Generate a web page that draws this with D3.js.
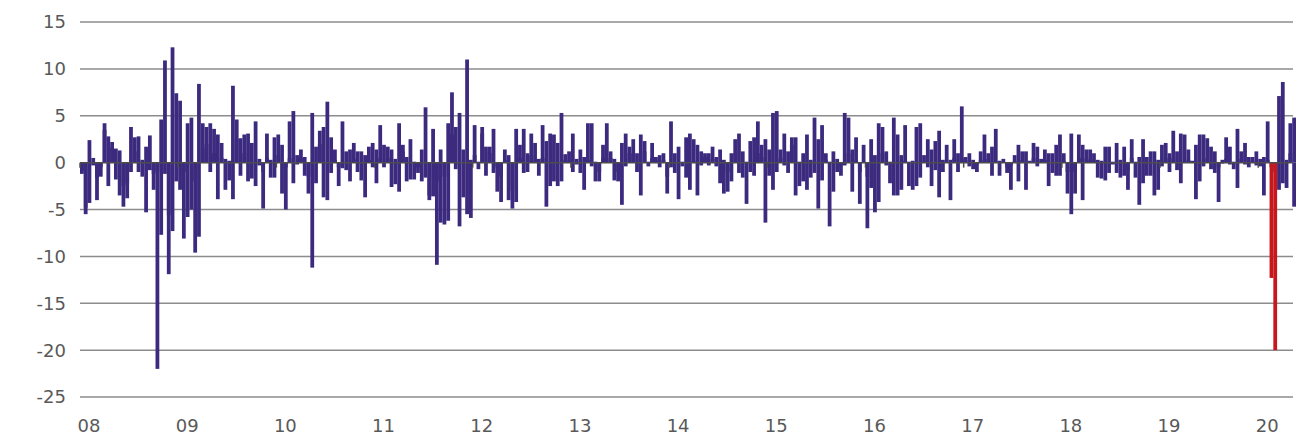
<!DOCTYPE html>
<html>
<head>
<meta charset="utf-8">
<script src="https://cdn.jsdelivr.net/npm/d3@7"></script>
<style>
  body { margin: 0; background: #fff; }
  text { font-family: "DejaVu Sans", sans-serif; }
</style>
</head>
<body>
<div id="chart"></div>
<script>
// weekly values, Jan 2008 - May 2020 (two weeks share one slot on the axis)
const flows = [
  -1.2,-0.9, -5.5,-4.8, 2.4,-4.3, 0.5,-0.3, -4.0,-1.6, -0.5,-1.5, 4.2,3.5, 2.8,-2.5, 2.2,1.6, 1.5,-1.8, 1.3,-3.5, -4.7,-2.5, -3.8,-2.2, 3.8,-1.0, 2.7,1.2, 2.8,-1.0, -1.5,0.3, -5.3,1.7, 2.9,-0.8, -2.9,-1.2, -22.0,-1.0, 4.6,-7.7, 10.9,-1.2, -11.9,-5.6, 12.3,-7.3, 7.4,-2.0, 6.6,-2.9,
  -8.1,-1.0, 4.2,-5.8, 4.8,-5.0, -9.6,-2.0, 8.4,-7.9, 4.2,1.5, 3.8,2.0, 4.2,-1.0, 3.6,1.0, 3.0,-3.9, 2.1,0.5, 0.4,-2.9, -1.9,0.2, 8.2,-3.9, 4.6,2.5, 2.6,-1.4, 3.0,1.0, 3.1,-2.0, 2.1,-1.7, 4.4,-2.5, 0.4,-0.3, -4.9,-1.0, 3.1,0.5, -1.6,0.3, 2.7,-1.6, 3.0,0.8, 1.9,-3.3,
  -5.0,-0.5, 4.4,0.5, 5.5,-2.2, 0.8,-0.2, 1.4,0.5, 0.6,-1.4, -3.3,-1.5, 5.3,-11.2, 1.7,-2.2, 3.4,2.0, 3.8,-3.7, 6.5,-4.0, 2.7,-1.1, 1.4,0.3, -2.5,-0.5, 4.4,-0.6, 1.2,-0.8, 1.4,-2.0, 2.1,0.4, 1.2,-1.0, 1.2,-1.9, -3.7,0.8, 1.7,0.3, 2.1,-0.5, -2.2,1.4, 4.0,0.5, 1.9,-0.5,
  1.7,0.5, 1.4,-2.6, -2.3,0.4, 4.2,-3.1, 1.9,1.2, 0.6,-2.0, 2.5,-1.8, -1.8,0.1, -1.1,-0.5, 1.4,-2.0, 5.9,-1.6, -4.0,-3.5, 3.6,-3.6, -10.9,-2.0, 1.4,-6.4, -6.6,-1.5, 4.2,-6.2, 7.5,3.0, 3.8,-0.7, 5.3,-6.8, 1.4,-3.7, 11.0,-5.5, -5.9,0.3, 4.0,0.8, -0.7,0.1, 3.8,3.1, 1.7,-1.4,
  1.7,1.0, 3.6,-1.1, -3.1,-0.5, -4.2,-1.5, 1.4,0.3, 0.8,-4.0, -4.9,-3.0, 3.6,-4.2, 1.9,0.5, 3.6,-1.1, 1.0,-1.0, 3.1,0.8, 2.1,0.2, -1.4,0.4, 4.0,0.5, -4.7,2.3, 3.1,-2.5, 3.0,-2.0, 2.1,-2.5, 5.3,-2.0, 0.9,0.3, 1.2,0.2, 3.1,-1.0, 0.4,-0.2, 1.4,-1.1, -2.9,0.6, 4.2,0.3,
  4.2,-0.4, -2.0,0.1, -2.0,-1.0, 1.9,0.5, 4.2,0.1, 1.2,0.5, 0.4,-1.9, -2.0,-1.0, 2.1,-4.5, 3.1,-0.4, 1.7,1.0, 2.5,1.0, 1.0,-1.0, 3.0,-3.5, 2.3,1.2, 0.1,-0.4, 2.1,0.5, 0.6,0.3, 0.8,-0.5, 1.0,0.3, -3.3,-1.5, 4.4,-0.5, 1.0,-1.1, 1.7,-3.9, 0.1,-0.4, 2.7,-1.6, 3.1,-2.9,
  2.5,0.2, 1.9,-3.5, 1.2,-0.3, 1.0,0.6, 1.0,-0.3, 1.7,0.4, 0.6,-0.4, 1.4,-2.2, 0.3,-3.3, -3.1,-1.0, 1.0,-2.0, 2.5,1.0, 3.1,-1.1, 1.2,-1.6, -4.4,0.1, 2.3,-1.0, 2.7,-1.4, 4.4,1.0, 1.9,0.6, 2.5,-6.4, 1.4,-1.4, 5.3,-2.9, 5.5,-1.0, 1.4,0.5, 3.1,-0.3, 1.2,-1.1, 2.7,1.9,
  2.7,-3.5, -2.5,0.1, 1.0,-2.0, 3.0,-2.9, -1.6,0.3, 4.8,-1.1, 2.5,-4.9, 4.0,-1.9, 1.0,0.3, -6.8,0.1, 1.2,-3.1, 0.4,-1.0, -1.4,-0.3, 5.3,-0.3, 4.8,1.0, 1.4,-3.1, 2.7,0.2, -4.4,-1.0, 1.9,0.1, -7.0,-1.5, 2.5,-2.7, 0.8,-5.3, 4.2,-4.2, 3.8,1.0, 1.2,-0.3, -2.2,0.1, 4.8,-3.5,
  3.0,-3.5, 0.8,-2.9, 4.0,0.2, 0.1,-2.5, -2.9,0.2, 3.8,-2.5, 4.2,-1.6, 0.8,0.1, 2.5,-0.5, 1.4,-2.5, 2.3,-0.8, 3.4,-3.7, -1.0,0.3, 1.9,0.1, -4.0,0.3, 2.5,0.5, 1.0,-1.0, 6.0,0.5, 0.6,0.3, 1.0,-0.4, 0.3,-0.7, -1.0,-0.2, 1.2,0.3, 3.0,0.1, 1.0,0.4, 1.7,-1.4, 3.6,0.1,
  -1.4,0.2, 0.4,0.1, -1.1,-0.5, -2.9,-0.3, 0.8,0.2, 1.9,-2.0, 1.2,0.3, 1.2,-2.9, 0.1,0.2, 2.1,0.5, 1.7,-0.4, 0.4,0.1, 1.4,0.3, 1.0,-2.5, 1.0,-1.1, 1.9,-1.4, 3.0,-1.4, 1.0,0.2, -3.3,-1.0, 3.1,-5.5, -3.3,-1.0, 3.0,0.5, 1.9,-4.0, 1.4,0.5, 1.4,0.3, 1.0,0.2, -1.6,0.3,
  -1.7,0.2, 1.7,-1.9, 1.7,-1.1, 0.1,-0.2, 2.1,-1.1, -1.6,0.3, 1.7,-1.4, -2.9,-0.8, 2.5,0.5, 0.1,-1.6, 0.6,-4.5, 2.5,-2.2, 0.6,-1.4, 1.2,-1.4, 1.2,-3.5, 0.3,-2.9, 1.9,-0.4, 2.1,0.5, 1.0,-1.0, 3.4,0.5, 1.2,-0.8, 3.1,-2.2, 3.0,0.1, 1.4,0.3, 0.1,0.2, 1.9,-3.9, 3.0,-2.0,
  3.0,-0.4, 2.6,0.5, 1.7,-0.7, 1.2,-1.1, -4.2,-0.5, 0.3,-0.1, 2.7,0.4, 1.7,-0.2, -0.7,0.1, 3.6,-2.7, 1.2,0.4, 2.1,-0.2, 0.6,-0.5, 0.6,0.2, 1.2,-0.3, 0.4,-0.4, 0.6,-3.5, 4.4,0.3, -12.3,-0.5, -20.0,-1.0, 7.1,-2.9, 8.6,-2.2, -2.7,0.3, 4.2,1.0, 4.8,-4.7
];
const highlightWeeks = [630, 632];
const yearLabels = ["08","09","10","11","12","13","14","15","16","17","18","19","20"];
const yTicks = [15, 10, 5, 0, -5, -10, -15, -20, -25];

const W = 1299, H = 442;
const margin = { top: 22, right: 3, bottom: 45, left: 80 };
const weeksPerYear = 52;
const nSlots = Math.ceil(flows.length / 2);

const svg = d3.select("#chart").append("svg")
  .attr("width", W)
  .attr("height", H);

const x = d3.scaleBand()
  .domain(d3.range(nSlots))
  .range([margin.left, 1296])
  .paddingInner(0);

const y = d3.scaleLinear()
  .domain([-25, 15])
  .range([397, margin.top]);

// gridlines + y labels
svg.append("g")
  .selectAll("line")
  .data(yTicks.filter(d => d !== 0))
  .enter().append("line")
  .attr("x1", margin.left).attr("x2", 1293)
  .attr("y1", d => y(d)).attr("y2", d => y(d))
  .attr("stroke", "#8c8c8c")
  .attr("stroke-width", 1.5);

svg.append("g")
  .selectAll("text")
  .data(yTicks)
  .enter().append("text")
  .attr("x", 66)
  .attr("y", d => y(d))
  .attr("dy", "0.36em")
  .attr("text-anchor", "end")
  .attr("font-size", 18)
  .attr("fill", "#595959")
  .text(d => d < 0 ? "-" + Math.abs(d) : d);

const weeks = flows.map((v, i) => ({ i, v, hi: highlightWeeks.includes(i) }));

// normal bars first, highlighted on top
svg.append("g")
  .selectAll("rect")
  .data(weeks.filter(d => !d.hi).concat(weeks.filter(d => d.hi)))
  .enter().append("rect")
  .attr("x", d => x(Math.floor(d.i / 2)))
  .attr("width", x.bandwidth())
  .attr("y", d => y(Math.max(0, d.v)))
  .attr("height", d => Math.abs(y(d.v) - y(0)))
  .attr("fill", d => d.hi ? "#c8161d" : "#3c2a7f");

// zero line
svg.append("line")
  .attr("x1", margin.left).attr("x2", 1293)
  .attr("y1", y(0)).attr("y2", y(0))
  .attr("stroke", "#4d4d4d")
  .attr("stroke-width", 1.5);

// year ticks and labels
const yearSlots = yearLabels.map((lab, k) => ({ lab, slot: k * weeksPerYear / 2 }));

svg.append("g")
  .selectAll("line")
  .data(yearSlots)
  .enter().append("line")
  .attr("x1", d => x(d.slot)).attr("x2", d => x(d.slot))
  .attr("y1", y(0)).attr("y2", y(0) + 5)
  .attr("stroke", "#4d4d4d")
  .attr("stroke-width", 1.5);

svg.append("g")
  .selectAll("text")
  .data(yearSlots)
  .enter().append("text")
  .attr("x", d => x(d.slot) + 9)
  .attr("y", 432)
  .attr("text-anchor", "middle")
  .attr("font-size", 18)
  .attr("fill", "#595959")
  .text(d => d.lab);
</script>
</body>
</html>
